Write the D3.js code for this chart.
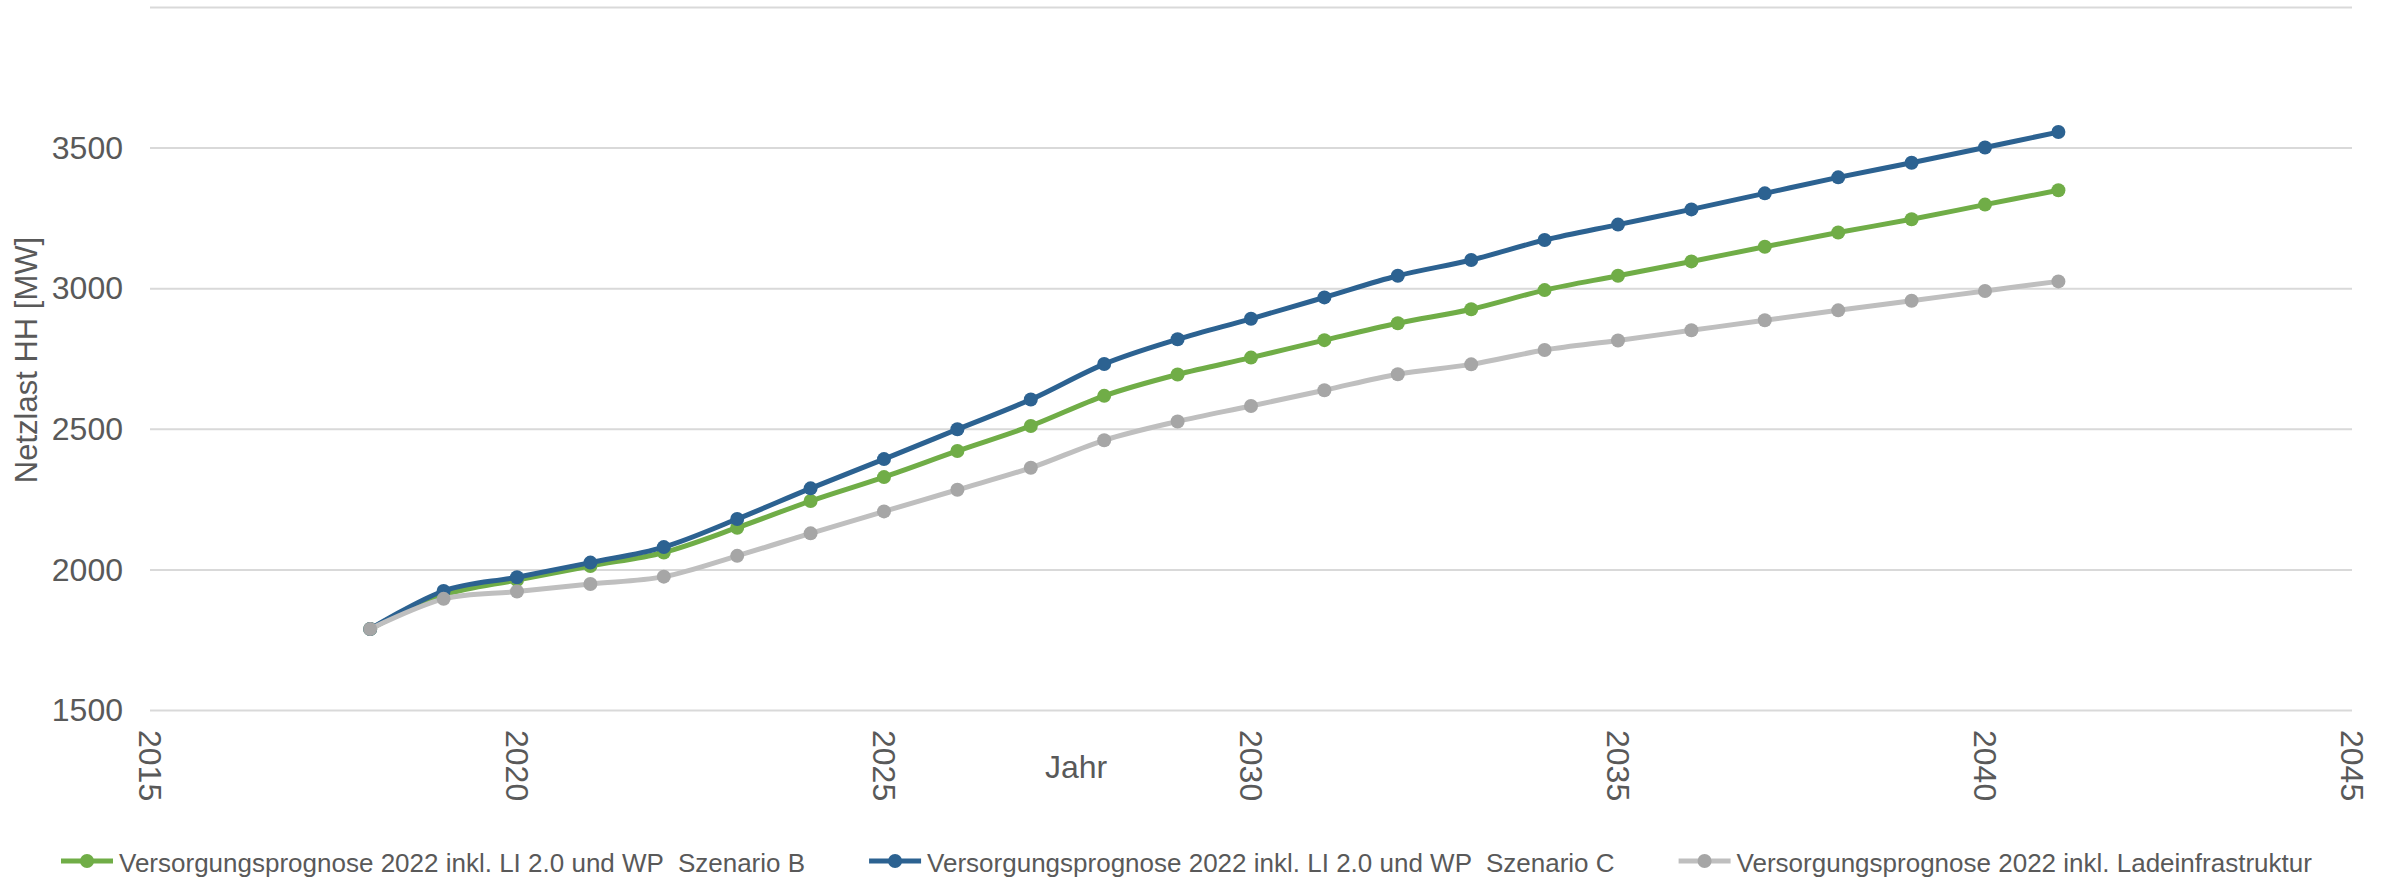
<!DOCTYPE html>
<html>
<head>
<meta charset="utf-8">
<script src="https://cdn.jsdelivr.net/npm/d3@7"></script>
<style>
  body { margin: 0; background: #fff; }
  text { font-family: "Liberation Sans", Arial, sans-serif; fill: #595959; }
</style>
</head>
<body>
<div id="chart"></div>
<script>
// Jahre und Werte (Netzlast HH in MW)
const years = [2018, 2019, 2020, 2021, 2022, 2023, 2024, 2025, 2026, 2027, 2028, 2029,
               2030, 2031, 2032, 2033, 2034, 2035, 2036, 2037, 2038, 2039, 2040, 2041];
const szenarioB = [1790, 1910, 1964, 2014, 2062, 2150, 2245, 2330, 2423, 2512, 2619, 2695,
                   2755, 2817, 2877, 2927, 2995, 3046, 3097, 3149, 3200, 3247, 3299, 3350];
const szenarioC = [1790, 1925, 1974, 2026, 2081, 2181, 2290, 2394, 2500, 2606, 2732, 2820,
                   2893, 2969, 3046, 3102, 3173, 3228, 3282, 3339, 3396, 3448, 3502, 3557];
const ladeinfra = [1790, 1897, 1923, 1950, 1976, 2050, 2130, 2208, 2285, 2363, 2461, 2528,
                   2583, 2639, 2696, 2731, 2782, 2816, 2852, 2888, 2923, 2957, 2992, 3026];
const seriesNames = ["Versorgungsprognose 2022 inkl. LI 2.0 und WP  Szenario B",
                     "Versorgungsprognose 2022 inkl. LI 2.0 und WP  Szenario C",
                     "Versorgungsprognose 2022 inkl. Ladeinfrastruktur"];
const xTicks = [2015, 2020, 2025, 2030, 2035, 2040, 2045];
const yTicks = [1500, 2000, 2500, 3000, 3500];
const yGrid = [1500, 2000, 2500, 3000, 3500, 4000];

const width = 2384, height = 879;
const colors = ["#70AD47", "#2C6291", "#BFBFBF"];
const markerColors = ["#70AD47", "#2C6291", "#A6A6A6"];

const svg = d3.select('#chart').append('svg')
    .attr('width', width).attr('height', height);

const xScale = d3.scaleLinear().domain([2015, 2045]).range([150, 2352]);
const yScale = d3.scaleLinear().domain([1500, 4000]).range([710.5, 7.5]);

// Gitterlinien
svg.append('g').selectAll('line')
    .data(yGrid).enter().append('line')
    .attr('x1', xScale(2015)).attr('x2', xScale(2045))
    .attr('y1', d => yScale(d)).attr('y2', d => yScale(d))
    .attr('stroke', '#D9D9D9').attr('stroke-width', 2);

// y-Achse
const yAxis = svg.append('g')
    .attr('transform', 'translate(123,0)')
    .call(d3.axisLeft(yScale).tickValues(yTicks).tickSize(0).tickPadding(0).tickFormat(d3.format('d')));
yAxis.select('.domain').remove();
yAxis.selectAll('text').style('font-size', '32px').attr('fill', '#595959')
    .style('font-family', '"Liberation Sans", Arial, sans-serif');

// x-Achse (Beschriftung um 90° gedreht)
svg.append('g').selectAll('text')
    .data(xTicks).enter().append('text')
    .attr('transform', d => 'translate(' + xScale(d) + ',730) rotate(90)')
    .attr('dy', '0.35em')
    .style('font-size', '32px')
    .text(d => d);

// Achsentitel
svg.append('text')
    .attr('x', 1076).attr('y', 778)
    .attr('text-anchor', 'middle')
    .style('font-size', '32px')
    .text('Jahr');
svg.append('text')
    .attr('transform', 'translate(37,360) rotate(-90)')
    .attr('text-anchor', 'middle')
    .style('font-size', '31px')
    .text('Netzlast HH [MW]');

// Linien
const allSeries = [szenarioB, szenarioC, ladeinfra];
const line = d3.line()
    .x((d, i) => xScale(years[i]))
    .y(d => yScale(d))
    .curve(d3.curveCatmullRom.alpha(0));

allSeries.forEach(function(vals, k) {
    const g = svg.append('g');
    g.append('path')
        .datum(vals)
        .attr('d', line)
        .attr('fill', 'none')
        .attr('stroke', colors[k])
        .attr('stroke-width', 5)
        .attr('stroke-linejoin', 'round');
    g.selectAll('circle')
        .data(vals).enter().append('circle')
        .attr('cx', (d, i) => xScale(years[i]))
        .attr('cy', d => yScale(d))
        .attr('r', 7)
        .attr('fill', markerColors[k]);
});

// Legende
let lx = 61;
const ly = 861;
seriesNames.forEach(function(name, k) {
    const g = svg.append('g');
    g.append('line')
        .attr('x1', lx).attr('x2', lx + 52)
        .attr('y1', ly).attr('y2', ly)
        .attr('stroke', colors[k]).attr('stroke-width', 5);
    g.append('circle')
        .attr('cx', lx + 26).attr('cy', ly).attr('r', 7)
        .attr('fill', markerColors[k]);
    const t = g.append('text')
        .attr('x', lx + 58).attr('y', ly + 11)
        .style('font-size', '26px')
        .style('white-space', 'pre')
        .attr('xml:space', 'preserve')
        .text(name);
    lx = lx + 58 + t.node().getComputedTextLength() + 64;
});
</script>
</body>
</html>
